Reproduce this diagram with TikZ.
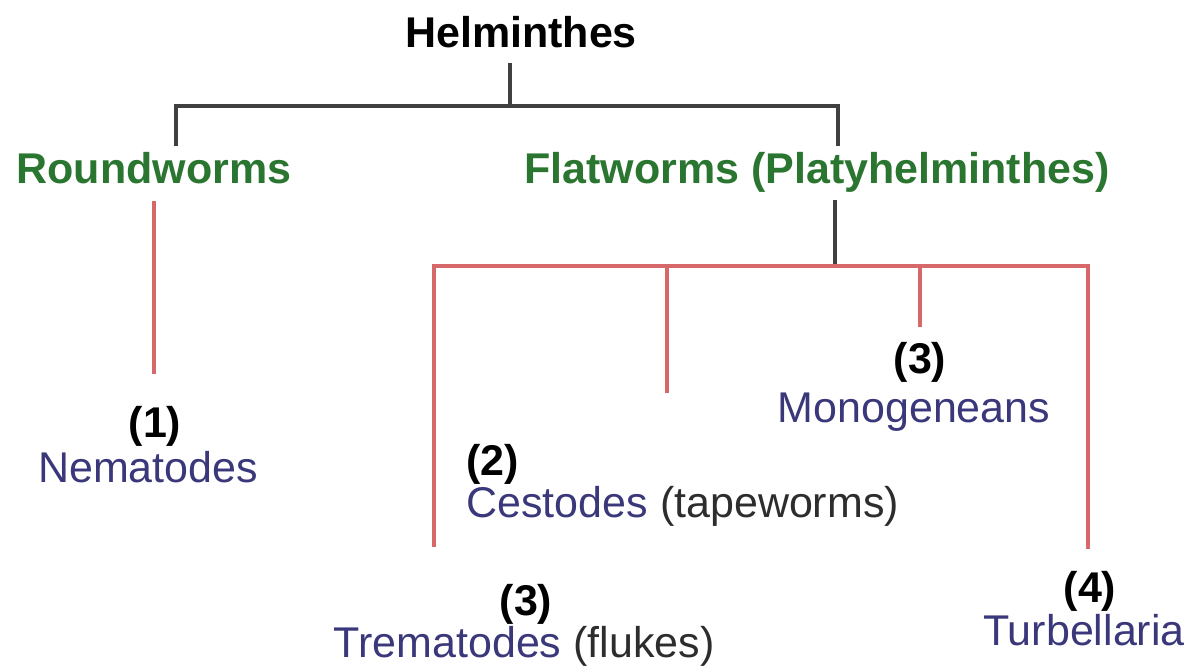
\documentclass[tikz,border=0pt]{standalone}
\usepackage{fontspec}
\setsansfont{Liberation Sans}

\definecolor{grpgreen}{RGB}{42,118,48}
\definecolor{taxnavy}{RGB}{58,56,122}
\definecolor{linkred}{RGB}{214,104,106}
\definecolor{linkgray}{RGB}{64,64,64}
\definecolor{notegray}{RGB}{45,45,45}

\newcommand{\diagfont}{\sffamily\fontsize{21.5}{24}\selectfont}

\begin{document}
\begin{tikzpicture}[
    x=0.5pt, y=-0.5pt,
    font=\diagfont,
    every node/.style={inner sep=0pt, anchor=base},
    root/.style={font=\diagfont\bfseries, text=black},
    group/.style={font=\diagfont\bfseries, text=grpgreen},
    num/.style={font=\diagfont\bfseries, text=black},
    taxon/.style={text=taxnavy},
    stem/.style={draw=linkgray, line width=2pt},
    link/.style={draw=linkred, line width=2pt}
]
\useasboundingbox (0,0) rectangle (1190,666);

% Top of the tree
\node[root] (helm) at (521,47) {Helminthes};
\node[group] (round) at (154,183) {Roundworms};
\node[group] (flat) at (817,183) {Flatworms (Platyhelminthes)};

% Roundworms
\node[num] (nem1) at (155,437) {(1)};
\node[taxon] (nem) at (148,482) {Nematodes};

% Flatworms
\node[num, anchor=base west] (ces2) at (466,475) {(2)};
\node[taxon, anchor=base west] (ces) at (466,517) {Cestodes \textcolor{notegray}{(tapeworms)}};
\node[num] (mono3) at (920,373) {(3)};
\node[taxon] (mono) at (914,422) {Monogeneans};
\node[num] (trem3) at (526,615) {(3)};
\node[taxon] (trem) at (524,657) {Trematodes \textcolor{notegray}{(flukes)}};
\node[num] (turb4) at (1090,602) {(4)};
\node[taxon] (turb) at (1084,645) {Turbellaria};

% Junctions
\coordinate (hub) at (510,106);
\coordinate (hubL) at (176,106);
\coordinate (hubR) at (838,106);
\coordinate (flatFoot) at (835,266);
\coordinate (barL) at (434,266);
\coordinate (barR) at (1088,266);
\coordinate (cesTip) at (667,393);

% Gray links
\draw[stem, shorten <=7.5pt] (helm.south -| hub) -- (hub);
\draw[stem, shorten <=2.5pt, shorten >=2.5pt] (hubL |- round.north) -- (hubL) -- (hubR) -- (hubR |- flat.north);
\draw[stem, shorten <=4pt] (flatFoot |- flat.south) -- (flatFoot);

% Red links
\draw[link, shorten <=8.5pt, shorten >=15.5pt] (round.south) -- (round.south |- nem1.north);
\draw[link, shorten <=18pt, shorten >=10.5pt] (barL |- trem3.north) -- (barL) -- (barR) -- (barR |- turb4.north);
\draw[link] (cesTip |- barL) -- (cesTip);
\draw[link, shorten >=7pt] (mono3.north |- barL) -- (mono3.north);

\end{tikzpicture}
\end{document}
